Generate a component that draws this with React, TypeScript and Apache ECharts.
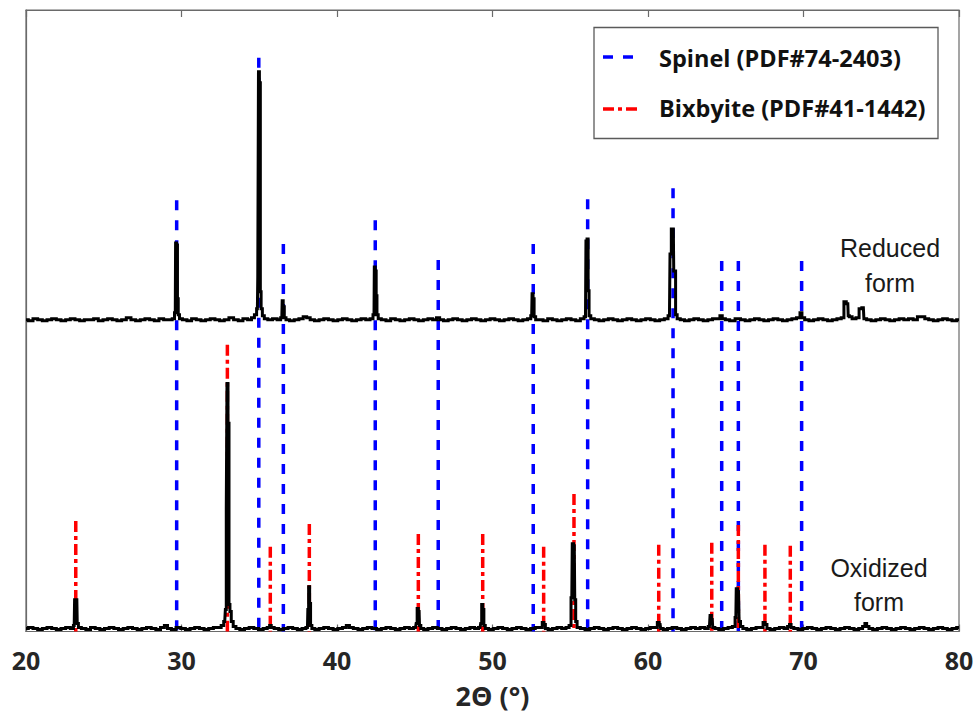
import React, { useEffect, useRef } from "react";
import * as echarts from "echarts";

const xTicks = [20, 30, 40, 50, 60, 70, 80];

const spinelPos = [29.69, 34.97, 36.55, 42.46, 46.51, 52.62, 56.12, 61.61, 64.74, 65.81, 69.88];
const spinelHeight = [433, 576, 389, 413, 373, 389, 434, 445, 372, 372, 372];

const bixbyitePos = [23.2, 32.95, 35.71, 38.22, 45.23, 49.37, 53.29, 55.24, 60.69, 64.1, 65.81, 67.52, 69.15];
const bixbyiteHeight = [111, 288, 85, 108, 98, 98, 85, 138, 87, 89, 107, 87, 86];

const reducedOffset = 312;
const oxidizedOffset = 2;

const reducedPattern: [number, number][] = [
  [20.0, 1], [20.3, 0], [20.6, 2], [20.9, 1], [21.2, 0], [21.5, 1], [21.8, 2], [22.1, 1], [22.4, 0], [22.7, 1],
  [23.0, 2], [23.3, 1], [23.6, 0], [23.9, 1], [24.2, 1], [24.5, 2], [24.8, 0], [25.1, 1], [25.4, 2], [25.7, 1],
  [26.0, 0], [26.3, 1], [26.6, 3], [26.9, 1], [27.2, 0], [27.5, 1], [27.8, 2], [28.1, 1], [28.4, 0], [28.7, 2],
  [29.0, 1], [29.3, 1], [29.5, 2],
  [29.6, 8], [29.64, 78], [29.72, 76], [29.76, 22], [29.82, 6], [29.92, 2],
  [30.2, 1], [30.5, 0], [30.8, 2], [31.1, 1], [31.4, 0], [31.7, 1], [32.0, 2], [32.3, 1], [32.6, 0], [32.9, 1],
  [33.2, 3], [33.5, 1], [33.8, 0], [34.1, 2], [34.4, 1], [34.6, 3], [34.78, 6], [34.88, 12],
  [34.93, 44], [34.97, 250], [35.05, 239], [35.09, 29], [35.15, 12], [35.25, 5], [35.4, 2],
  [35.7, 1], [36.0, 2], [36.3, 1],
  [36.45, 3], [36.5, 20], [36.58, 14], [36.64, 3], [36.8, 1],
  [37.1, 0], [37.4, 1], [37.7, 2], [37.95, 4], [38.15, 3], [38.4, 1], [38.7, 0], [39.0, 1], [39.3, 2], [39.6, 1],
  [39.9, 0], [40.2, 1], [40.5, 2], [40.8, 1], [41.1, 0], [41.4, 1], [41.7, 2], [42.0, 1], [42.25, 2],
  [42.38, 6], [42.42, 54], [42.5, 50], [42.54, 25], [42.6, 6], [42.7, 2],
  [43.0, 1], [43.3, 0], [43.6, 2], [43.9, 1], [44.2, 0], [44.5, 1], [44.8, 2], [45.1, 1], [45.4, 0], [45.7, 1],
  [46.0, 2], [46.3, 1], [46.5, 3], [46.7, 1], [47.0, 0], [47.3, 1], [47.6, 2], [47.9, 1], [48.2, 0], [48.5, 1],
  [48.8, 2], [49.1, 1], [49.4, 0], [49.7, 1], [50.0, 2], [50.3, 1], [50.6, 0], [50.9, 1], [51.2, 2], [51.5, 1],
  [51.8, 0], [52.1, 1], [52.4, 2],
  [52.52, 5], [52.57, 27], [52.65, 22], [52.7, 4], [52.85, 1],
  [53.1, 1], [53.4, 0], [53.7, 2], [54.0, 1], [54.3, 0], [54.6, 1], [54.9, 2], [55.2, 1], [55.5, 0], [55.8, 2],
  [55.98, 4], [56.04, 80], [56.12, 82], [56.18, 30], [56.24, 5], [56.4, 2],
  [56.7, 1], [57.0, 0], [57.3, 1], [57.6, 2], [57.9, 1], [58.2, 0], [58.5, 1], [58.8, 2], [59.1, 1], [59.4, 0],
  [59.7, 1], [60.0, 2], [60.3, 1], [60.6, 0], [60.9, 1], [61.2, 2],
  [61.38, 5], [61.45, 67], [61.55, 92], [61.63, 92], [61.68, 50], [61.75, 50], [61.8, 6], [61.95, 2],
  [62.2, 1], [62.5, 0], [62.8, 1], [63.1, 2], [63.4, 1], [63.7, 0], [64.0, 1], [64.3, 2], [64.55, 2], [64.7, 5],
  [64.85, 2], [65.1, 1], [65.4, 0], [65.8, 2], [66.1, 1], [66.4, 0], [66.7, 1], [67.0, 2], [67.3, 1], [67.6, 0],
  [67.9, 1], [68.2, 2], [68.5, 1], [68.8, 0], [69.1, 1], [69.4, 2], [69.7, 3], [69.85, 8], [69.95, 3], [70.2, 1],
  [70.5, 0], [70.8, 1], [71.1, 2], [71.4, 1], [71.7, 0], [72.0, 1], [72.3, 2], [72.55, 3],
  [72.65, 19], [72.85, 17], [72.9, 5], [73.0, 4], [73.25, 2], [73.5, 3], [73.65, 12], [73.85, 13], [73.92, 2],
  [74.2, 1], [74.5, 0], [74.8, 1], [75.1, 2], [75.4, 1], [75.7, 0], [76.0, 1], [76.3, 2], [76.6, 1], [76.9, 2],
  [77.2, 1], [77.45, 4], [77.7, 4], [77.9, 2], [78.2, 1], [78.5, 0], [78.8, 1], [79.1, 2], [79.4, 1], [79.7, 0],
  [80.0, 1],
];

const oxidizedPattern: [number, number][] = [
  [20.0, 1], [20.3, 2], [20.6, 1], [20.9, 0], [21.2, 1], [21.5, 2], [21.8, 1], [22.1, 0], [22.4, 1], [22.7, 2],
  [23.0, 1],
  [23.1, 4], [23.15, 30], [23.27, 30], [23.32, 6], [23.42, 2],
  [23.7, 1], [24.0, 0], [24.3, 2], [24.6, 1], [24.9, 0], [25.2, 1], [25.5, 2], [25.8, 1], [26.1, 0], [26.4, 1],
  [26.7, 2], [27.0, 1], [27.3, 0], [27.6, 1], [27.9, 2], [28.2, 1], [28.5, 0], [28.8, 2], [29.0, 4], [29.2, 1],
  [29.5, 0], [29.8, 2], [30.1, 1], [30.4, 0], [30.7, 1], [31.0, 2], [31.3, 1], [31.6, 0], [31.9, 1], [32.2, 2],
  [32.45, 2], [32.65, 4], [32.78, 8],
  [32.86, 20], [32.9, 120], [32.95, 247], [33.03, 207], [33.08, 25], [33.15, 18], [33.25, 8], [33.4, 3], [33.6, 1],
  [33.9, 0], [34.2, 1], [34.5, 2], [34.8, 1], [35.1, 0], [35.4, 1], [35.62, 2], [35.72, 4], [35.82, 2], [36.1, 1],
  [36.4, 0], [36.7, 1], [37.0, 2], [37.3, 1], [37.6, 0], [37.9, 1], [38.1, 2],
  [38.15, 20], [38.2, 43], [38.28, 26], [38.32, 4], [38.45, 1],
  [38.7, 0], [39.0, 1], [39.3, 2], [39.6, 1], [39.9, 0], [40.2, 1], [40.5, 2], [40.7, 4], [40.9, 2], [41.2, 1],
  [41.5, 0], [41.8, 1], [42.1, 2], [42.4, 1], [42.7, 0], [43.0, 1], [43.3, 2], [43.6, 1], [43.9, 0], [44.2, 1],
  [44.5, 2], [44.8, 1], [45.05, 2],
  [45.13, 6], [45.18, 21], [45.28, 18], [45.33, 4], [45.45, 1],
  [45.7, 0], [46.0, 1], [46.3, 2], [46.6, 1], [46.9, 0], [47.2, 1], [47.5, 2], [47.8, 1], [48.1, 0], [48.4, 1],
  [48.7, 2], [49.0, 1], [49.2, 2],
  [49.28, 6], [49.33, 25], [49.42, 20], [49.47, 4], [49.6, 1],
  [49.9, 0], [50.2, 1], [50.5, 2], [50.8, 1], [51.1, 0], [51.4, 1], [51.7, 2], [52.0, 1], [52.3, 0], [52.6, 1],
  [52.9, 2], [53.15, 2], [53.25, 7], [53.35, 5], [53.45, 1],
  [53.7, 0], [54.0, 1], [54.3, 2], [54.6, 1], [54.85, 2], [55.0, 4],
  [55.1, 32], [55.16, 86], [55.26, 84], [55.32, 30], [55.38, 8], [55.5, 2],
  [55.8, 1], [56.1, 0], [56.4, 1], [56.7, 2], [57.0, 1], [57.3, 0], [57.6, 1], [57.9, 2], [58.2, 1], [58.5, 0],
  [58.8, 1], [59.1, 2], [59.4, 1], [59.7, 0], [60.0, 1], [60.3, 2], [60.55, 2], [60.65, 7], [60.78, 5], [60.85, 1],
  [61.1, 0], [61.4, 1], [61.7, 2], [62.0, 1], [62.3, 0], [62.6, 1], [62.9, 2], [63.2, 1], [63.5, 2], [63.8, 1],
  [63.95, 3], [64.03, 14], [64.13, 10], [64.2, 2], [64.4, 1], [64.7, 0], [65.0, 1], [65.3, 2], [65.55, 3],
  [65.65, 12], [65.7, 41], [65.82, 38], [65.9, 8], [66.0, 3], [66.2, 1],
  [66.5, 0], [66.8, 1], [67.1, 2], [67.35, 2], [67.45, 7], [67.6, 5], [67.7, 1], [68.0, 0], [68.3, 1], [68.6, 2],
  [68.9, 1], [69.05, 3], [69.15, 5], [69.25, 2], [69.5, 1], [69.8, 0], [70.1, 1], [70.4, 2], [70.7, 1], [71.0, 0],
  [71.3, 1], [71.6, 2], [71.9, 1], [72.2, 0], [72.5, 1], [72.8, 2], [73.1, 1], [73.4, 0], [73.7, 1], [73.9, 3],
  [74.0, 6], [74.12, 3], [74.3, 1], [74.6, 0], [74.9, 1], [75.2, 2], [75.5, 1], [75.8, 0], [76.1, 1], [76.4, 2],
  [76.7, 1], [77.0, 0], [77.3, 1], [77.6, 2], [77.9, 1], [78.2, 0], [78.5, 1], [78.8, 2], [79.1, 1], [79.4, 0],
  [79.7, 1], [80.0, 2],
];

const legendLabels = ["Spinel (PDF#74-2403)", "Bixbyite (PDF#41-1442)"];
const annotationReduced = ["Reduced", "form"];
const annotationOxidized = ["Oxidized", "form"];

const BLUE = "#0000ff";
const RED = "#ff0000";
const BLUE_DASH = [10, 10];
const RED_DASH = [11, 4, 4, 4];

function refLineRender(color: string, dash: number[]) {
  return (params: any, api: any) => {
    const x = api.value(0);
    const h = api.value(1);
    const top = api.coord([x, h]);
    const bottom = api.coord([x, 0]);
    return {
      type: "line",
      shape: { x1: top[0], y1: top[1], x2: bottom[0], y2: bottom[1] },
      style: { stroke: color, lineWidth: 3.5, lineDash: dash, fill: null },
    };
  };
}

export default function App() {
  const ref = useRef<HTMLDivElement>(null);

  useEffect(() => {
    if (!ref.current) return;
    const chart = echarts.init(ref.current, undefined, { renderer: "svg" });

    const labelFont = { fontFamily: "Open Sans", fontWeight: "bold" as const, color: "#262626" };
    const frame = { color: "#6a6a6a", width: 1.2 };

    const option: any = {
      animation: false,
      backgroundColor: "#ffffff",
      grid: {
        left: 26,
        right: 19,
        top: 10,
        bottom: 80,
        show: true,
        borderColor: "#6a6a6a",
        borderWidth: 1.2,
        backgroundColor: "transparent",
      },
      xAxis: [
        {
          type: "value",
          min: 20,
          max: 80,
          interval: 10,
          position: "bottom",
          name: "2Θ (°)",
          nameLocation: "middle",
          nameGap: 51,
          nameTextStyle: { ...labelFont, fontSize: 27, lineHeight: 26 },
          axisLine: { show: true, lineStyle: frame },
          axisTick: { show: true, inside: true, length: 7, lineStyle: frame },
          axisLabel: {
            ...labelFont,
            fontSize: 25,
            lineHeight: 24,
            margin: 16,
            formatter: (v: number) => (xTicks.includes(v) ? String(v) : ""),
          },
          splitLine: { show: false },
        },
        {
          type: "value",
          min: 20,
          max: 80,
          interval: 10,
          position: "top",
          axisLine: { show: true, lineStyle: frame },
          axisTick: { show: true, inside: true, length: 7, lineStyle: frame },
          axisLabel: { show: false },
          splitLine: { show: false },
        },
      ],
      yAxis: {
        type: "value",
        min: 0,
        max: 624,
        show: true,
        axisLine: { show: true, lineStyle: frame },
        axisTick: { show: false },
        axisLabel: { show: false },
        splitLine: { show: false },
      },
      series: [
        {
          name: legendLabels[0],
          type: "custom",
          renderItem: refLineRender(BLUE, BLUE_DASH),
          data: spinelPos.map((p, i) => [p, spinelHeight[i]]),
          encode: { x: 0, y: 1 },
          z: 2,
          silent: true,
        },
        {
          name: legendLabels[1],
          type: "custom",
          renderItem: refLineRender(RED, RED_DASH),
          data: bixbyitePos.map((p, i) => [p, bixbyiteHeight[i]]),
          encode: { x: 0, y: 1 },
          z: 2,
          silent: true,
        },
        {
          name: "Reduced form",
          type: "line",
          step: "middle",
          data: reducedPattern.map(([x, y]) => [x, y + reducedOffset]),
          showSymbol: false,
          lineStyle: { color: "#000000", width: 3, join: "miter" },
          z: 3,
          silent: true,
        },
        {
          name: "Oxidized form",
          type: "line",
          step: "middle",
          data: oxidizedPattern.map(([x, y]) => [x, y + oxidizedOffset]),
          showSymbol: false,
          lineStyle: { color: "#000000", width: 3, join: "miter" },
          z: 3,
          silent: true,
        },
      ],
      graphic: [
        {
          type: "rect",
          shape: { x: 594, y: 27.5, width: 344, height: 111 },
          style: { fill: "#ffffff", stroke: "#5a5a5a", lineWidth: 1.3 },
          z: 10,
        },
        {
          type: "line",
          shape: { x1: 603, y1: 57, x2: 634, y2: 57 },
          style: { stroke: BLUE, lineWidth: 3.5, lineDash: BLUE_DASH },
          z: 11,
        },
        {
          type: "line",
          shape: { x1: 603, y1: 109, x2: 638, y2: 109 },
          style: { stroke: RED, lineWidth: 3.5, lineDash: RED_DASH },
          z: 11,
        },
        ...legendLabels.map((t, i) => ({
          type: "text",
          x: 659,
          y: 58 + i * 50,
          style: {
            text: t,
            fontFamily: "Open Sans",
            fontWeight: "bold",
            fontSize: 23.5,
            fill: "#111111",
            textVerticalAlign: "middle",
            verticalAlign: "middle",
          },
          z: 11,
        })),
        ...annotationReduced.map((t, i) => ({
          type: "text",
          x: 890,
          y: 248 + i * 35,
          style: {
            text: t,
            fontFamily: "Liberation Sans",
            fontSize: 25,
            fill: "#1a1a1a",
            align: "center",
            textAlign: "center",
            verticalAlign: "middle",
            textVerticalAlign: "middle",
          },
          z: 11,
        })),
        ...annotationOxidized.map((t, i) => ({
          type: "text",
          x: 879,
          y: 568 + i * 34,
          style: {
            text: t,
            fontFamily: "Liberation Sans",
            fontSize: 25,
            fill: "#1a1a1a",
            align: "center",
            textAlign: "center",
            verticalAlign: "middle",
            textVerticalAlign: "middle",
          },
          z: 11,
        })),
      ],
    };

    chart.setOption(option);
    return () => chart.dispose();
  }, []);

  return <div ref={ref} style={{ width: 978, height: 714, position: "absolute", left: 0, top: 0 }} />;
}
